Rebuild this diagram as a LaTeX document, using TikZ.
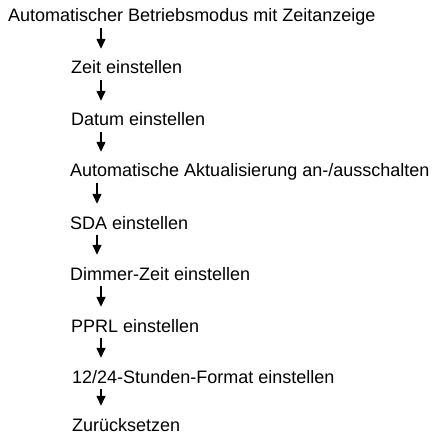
\documentclass[tikz,border=0pt]{standalone}
\usepackage{fontspec}
\setmainfont{Liberation Sans}
\usetikzlibrary{arrows.meta}

\tikzset{
  step text/.style={anchor=base west, inner sep=0pt, text height=13pt, text depth=4pt,
    font=\fontsize{18}{21}\selectfont},
  flow/.style={-{Triangle[width=9pt,length=10pt]}, line width=1.4pt,
    shorten <=2pt, shorten >=12pt}
}

\begin{document}
\begin{tikzpicture}[x=1pt,y=-1pt]
%\draw[help lines] (0,0) grid[step=20] (434,435);
\useasboundingbox (0,0) rectangle (434,435);

 \node[step text] (modus) at (8,22) {Automatischer Betriebsmodus mit Zeitanzeige};
 \node[step text] (zeit) at (71,74) {Zeit einstellen};
 \node[step text] (datum) at (71,126) {Datum einstellen};
 \node[step text] (aktual) at (70,177) {Automatische Aktualisierung an-/ausschalten};
 \node[step text] (sda) at (70,229) {SDA einstellen};
 \node[step text] (dimmer) at (70,280) {Dimmer-Zeit einstellen};
 \node[step text] (pprl) at (71,332) {PPRL einstellen};
 \node[step text] (format) at (72,383) {12/24-Stunden-Format einstellen};
 \node[step text] (reset) at (72,431) {Zur\"ucksetzen};

 % arrow columns
 \coordinate (ax) at (101,0);
 \coordinate (bx) at (97,0);

 \draw[flow] (modus.south -| ax) -- (zeit.north -| ax);
 \draw[flow] (zeit.south -| ax) -- (datum.north -| ax);
 \draw[flow] (datum.south -| ax) -- (aktual.north -| ax);
 \draw[flow] (aktual.south -| bx) -- (sda.north -| bx);
 \draw[flow] (sda.south -| bx) -- (dimmer.north -| bx);
 \draw[flow] (dimmer.south -| ax) -- (pprl.north -| ax);
 \draw[flow] (pprl.south -| ax) -- (format.north -| ax);
 \draw[flow] (format.south -| ax) -- (reset.north -| ax);

\end{tikzpicture}
\end{document}
